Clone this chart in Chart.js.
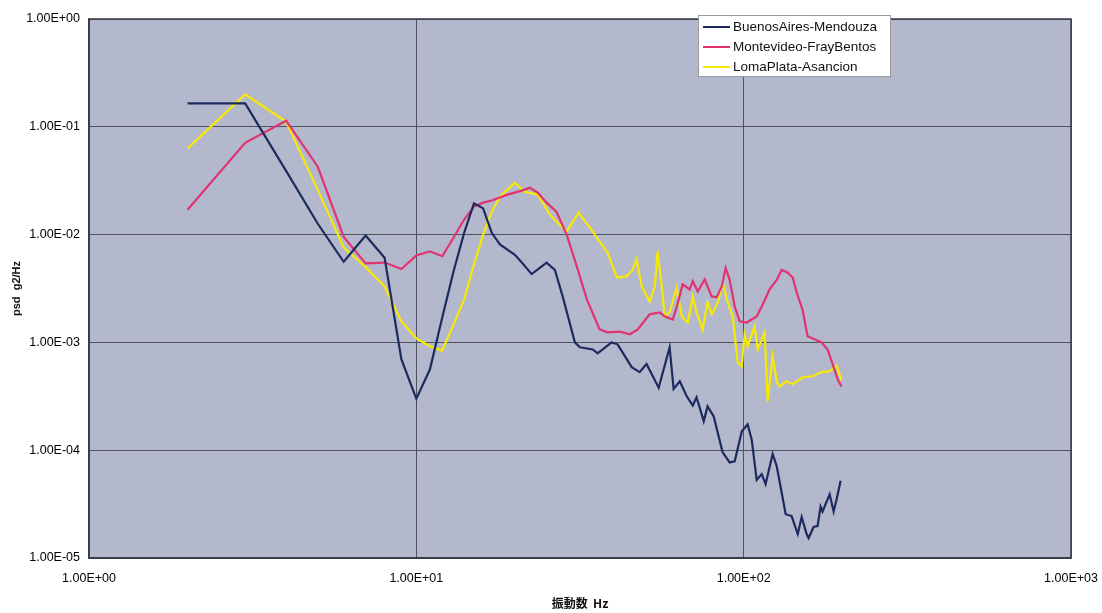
<!DOCTYPE html>
<html><head><meta charset="utf-8">
<script src="https://cdn.jsdelivr.net/npm/chart.js@4/dist/chart.umd.min.js"></script>
<style>html,body{margin:0;padding:0;background:#fff;}#wrap{width:1102px;height:613px;}</style>
</head><body><div id="wrap"><canvas id="c" width="1102" height="613"></canvas></div>
<script>
// ---- data (frequency Hz, psd g2/Hz) ----
const seriesNames = ['BuenosAires-Mendouza', 'Montevideo-FrayBentos', 'LomaPlata-Asancion'];
const seriesColors = ['#1b2b5e', '#e0336f', '#f7ea00'];
const xTickValues = [1, 10, 100, 1000];
const yTickValues = [1e-5, 1e-4, 1e-3, 1e-2, 1e-1, 1];
const xAxisTitle = '振動数  Hz';
const yAxisTitle = 'psd  g2/Hz';

const buenosAiresMendouza = [[2,0.165],[3,0.165],[4,0.039],[5,0.0126],[6,0.0056],[7,0.0098],[8,0.0061],[9,7.0e-4],[10,3.0e-4],[11,5.6e-4],[12,1.7e-3],[13,4.6e-3],[14,0.0104],[15,0.0195],[16,0.0175],[17,0.0104],[18,0.0081],[20,0.0065],[21,0.0055],[22.5,0.0043],[24,0.005],[25,0.0055],[26.5,0.0047],[28,0.00267],[30.5,1.0e-3],[31.6,9.0e-4],[34.6,8.6e-4],[35.8,7.9e-4],[39.5,1.0e-3],[41.2,9.6e-4],[45.5,5.9e-4],[48.1,5.3e-4],[50.5,6.3e-4],[55,3.8e-4],[59.4,9.0e-4],[61.1,3.7e-4],[63.8,4.35e-4],[67,3.16e-4],[69.9,2.6e-4],[71.8,3.1e-4],[75.5,1.86e-4],[77.6,2.55e-4],[81,2.06e-4],[86.2,9.6e-5],[90.6,7.7e-5],[93.9,7.9e-5],[98.7,1.5e-4],[102.8,1.74e-4],[105.8,1.26e-4],[109.6,5.3e-5],[113.5,6.0e-5],[116.7,4.85e-5],[122.6,9.2e-5],[126.2,7.1e-5],[134.4,2.55e-5],[140.1,2.45e-5],[146.3,1.67e-5],[150.4,2.4e-5],[155.7,1.67e-5],[157.9,1.53e-5],[163.5,1.94e-5],[168.2,1.98e-5],[171.8,3.0e-5],[174.2,2.7e-5],[183.1,3.9e-5],[188.3,2.7e-5],[192.3,3.5e-5],[197.8,5.2e-5]];

const montevideoFrayBentos = [[2,0.017],[3,0.071],[4,0.114],[5,0.0426],[6,0.0095],[7,0.0054],[8,0.0055],[9,0.0048],[10,0.0064],[11,0.007],[12,0.0063],[13,0.0094],[14,0.0138],[15,0.0182],[16,0.0198],[17,0.0207],[19,0.0235],[21,0.0256],[22.2,0.0272],[23.5,0.0245],[25,0.0198],[26.8,0.0163],[28.8,0.01],[30.9,0.0051],[33.2,0.0025],[36.3,0.00132],[38.4,0.00124],[41.8,0.00126],[44.9,0.00119],[47.5,0.00132],[51.6,0.00182],[55.4,0.0019],[57.4,0.00174],[60.7,0.00163],[62.4,0.00211],[65.1,0.00345],[68.4,0.0031],[69.9,0.0037],[72.4,0.00297],[76,0.00383],[79.9,0.00267],[82.7,0.00262],[85.7,0.0033],[88.1,0.0049],[90.6,0.0038],[93.9,0.00215],[97.2,0.00157],[102.1,0.00153],[109.6,0.00174],[114.3,0.00225],[120,0.0031],[126.2,0.0038],[130.6,0.0047],[136.2,0.00445],[141.2,0.004],[145.2,0.0029],[151.4,0.002],[156.8,0.00114],[164.7,0.00107],[173,0.001],[180.4,8.6e-4],[187,6.3e-4],[193.7,4.55e-4],[199,3.9e-4]];

const lomaPlataAsancion = [[2,0.063],[3,0.2],[4,0.112],[5,0.026],[6,0.0076],[7,0.005],[8,0.0033],[9,0.00157],[10,0.00109],[11,9.2e-4],[12,8.4e-4],[13,1.47e-3],[14,2.5e-3],[15,5.3e-3],[16,0.01],[17,0.0163],[18,0.0225],[20,0.0303],[21.4,0.025],[23.5,0.0235],[25.6,0.0153],[27,0.0129],[28.8,0.0107],[31.3,0.016],[33.9,0.0116],[36.3,0.0086],[38.4,0.0068],[39.8,0.0051],[41,0.004],[43.9,0.0041],[45.8,0.0047],[47.1,0.0059],[48.8,0.0033],[51.6,0.0024],[53.5,0.0033],[54.6,0.007],[56.2,0.0033],[57.4,0.00174],[59.4,0.0019],[62.4,0.0032],[64.7,0.00174],[67.5,0.00153],[69.9,0.00267],[71.8,0.0019],[74.9,0.00132],[77.6,0.00235],[79.9,0.00182],[83.4,0.00235],[86.2,0.0036],[89.4,0.00235],[92.6,0.00174],[95.9,6.5e-4],[98.6,6.0e-4],[100.7,1.19e-3],[102.8,9.2e-4],[108,1.41e-3],[110.4,8.6e-4],[115.9,1.24e-3],[118.4,2.85e-4],[122.6,7.4e-4],[126.2,4.3e-4],[128.8,3.9e-4],[135.3,4.35e-4],[141.2,4.1e-4],[151.4,4.75e-4],[162.4,4.85e-4],[173,5.3e-4],[183.1,5.4e-4],[192.3,6.1e-4],[199,4.45e-4]];

const seriesData = [buenosAiresMendouza, montevideoFrayBentos, lomaPlataAsancion];

function sci(v) {
  const e = Math.floor(Math.log10(v) + 1e-9);
  const m = v / Math.pow(10, e);
  return m.toFixed(2) + 'E' + (e < 0 ? '-' : '+') + String(Math.abs(e)).padStart(2, '0');
}

const plotBg = {
  id: 'plotBg',
  beforeDraw(chart) {
    const { ctx, chartArea: a } = chart;
    ctx.save();
    ctx.fillStyle = '#b4b8cd';
    ctx.fillRect(a.left, a.top, a.right - a.left, a.bottom - a.top);
    ctx.restore();
  },
  beforeDatasetsDraw(chart) {
    const { ctx, chartArea: a } = chart;
    ctx.save();
    ctx.strokeStyle = '#3a3d48';
    ctx.lineWidth = 1.5;
    ctx.strokeRect(a.left, a.top, a.right - a.left, a.bottom - a.top);
    ctx.restore();
  }
};

const boxLegend = {
  id: 'boxLegend',
  afterDraw(chart) {
    const ctx = chart.ctx;
    const x = 698, y = 15, w = 192, h = 61;
    ctx.save();
    ctx.fillStyle = '#ffffff';
    ctx.fillRect(x, y, w, h);
    ctx.strokeStyle = '#9a9a9a';
    ctx.lineWidth = 1;
    ctx.strokeRect(x + 0.5, y + 0.5, w, h);
    ctx.font = '13.5px "Liberation Sans", Arial, sans-serif';
    ctx.textBaseline = 'middle';
    chart.data.datasets.forEach((ds, i) => {
      const ry = y + 12 + i * 20;
      ctx.strokeStyle = ds.borderColor;
      ctx.lineWidth = 2;
      ctx.beginPath();
      ctx.moveTo(x + 5, ry);
      ctx.lineTo(x + 32, ry);
      ctx.stroke();
      ctx.fillStyle = '#111';
      ctx.fillText(ds.label, x + 35, ry);
    });
    ctx.restore();
  }
};

const tickFont = { family: '"Liberation Sans", Arial, sans-serif', size: 12.5 };

new Chart(document.getElementById('c'), {
  type: 'line',
  data: {
    datasets: seriesData.map((s, i) => ({
      label: seriesNames[i],
      data: s.map(([f, p]) => ({ x: f, y: p })),
      borderColor: seriesColors[i],
      backgroundColor: seriesColors[i],
      borderWidth: 2.2,
      pointRadius: 0,
      tension: 0,
      fill: false
    }))
  },
  options: {
    responsive: false,
    animation: false,
    layout: { padding: { top: 19, right: 31, left: 0, bottom: 0 } },
    plugins: { legend: { display: false }, tooltip: { enabled: false } },
    scales: {
      x: {
        type: 'logarithmic',
        min: 1, max: 1000,
        afterBuildTicks: s => { s.ticks = xTickValues.map(v => ({ value: v })); },
        afterFit: s => { s.height = 55; s.paddingLeft = 0; s.paddingRight = 0; },
        ticks: { callback: v => sci(v), autoSkip: false, maxRotation: 0, minRotation: 0, font: tickFont, color: '#000', padding: 13 },
        grid: { color: '#50535e', lineWidth: 1, drawTicks: false },
        border: { display: true, color: '#3a3d48', width: 1.5 },
        title: { display: true, text: xAxisTitle, color: '#111', font: { family: '"Noto Sans CJK JP", sans-serif', size: 12, weight: 'bold' }, padding: { top: 0, bottom: 2 } }
      },
      y: {
        type: 'logarithmic',
        min: 1e-5, max: 1,
        afterBuildTicks: s => { s.ticks = yTickValues.map(v => ({ value: v })); },
        afterFit: s => { s.width = 89; s.paddingTop = 0; s.paddingBottom = 0; },
        ticks: { callback: v => sci(v), autoSkip: false, font: tickFont, color: '#000', padding: 9 },
        grid: { color: '#50535e', lineWidth: 1, drawTicks: false },
        border: { display: true, color: '#3a3d48', width: 1.5 },
        title: { display: true, text: yAxisTitle, color: '#111', font: { family: '"Liberation Sans", Arial, sans-serif', size: 11, weight: 'bold' }, padding: { top: 10, bottom: 0 } }
      }
    }
  },
  plugins: [plotBg, boxLegend]
});
</script></body></html>
